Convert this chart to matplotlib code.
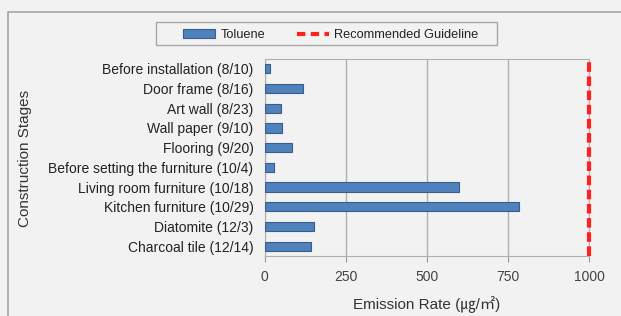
import matplotlib
matplotlib.use("Agg")
import matplotlib.pyplot as plt
from matplotlib.patches import Rectangle

plt.rcParams['font.family'] = ['Liberation Sans', 'Noto Sans CJK KR', 'DejaVu Sans']

# data
stages = ["Before installation (8/10)", "Door frame (8/16)", "Art wall (8/23)",
          "Wall paper (9/10)", "Flooring (9/20)", "Before setting the furniture (10/4)",
          "Living room furniture (10/18)", "Kitchen furniture (10/29)",
          "Diatomite (12/3)", "Charcoal tile (12/14)"]
toluene = [16, 119, 50, 53, 84, 29, 600, 782, 152, 143]
guideline = 1000
xticks = [0, 250, 500, 750, 1000]

bg = "#f2f2f2"
W, H = 621, 316
fig = plt.figure(figsize=(6.21, 3.16), dpi=100, facecolor=bg)
# outer chart border
fig.patches.append(Rectangle((8 / W, -0.1), 1.2, (H - 12) / H + 0.1,
                             transform=fig.transFigure, fill=False,
                             edgecolor="#a6a6a6", linewidth=1.2))
# legend box
fig.patches.append(Rectangle((156 / W, (H - 45) / H), (497 - 156) / W, 23 / H,
                             transform=fig.transFigure, fill=False,
                             edgecolor="#a6a6a6", linewidth=1))

ax = fig.add_axes([264.6 / W, (H - 256) / H, (589.3 - 264.6) / W, (256 - 59) / H])
ax.set_facecolor(bg)

ypos = list(range(len(stages)))
bars = ax.barh(ypos, toluene, height=0.47, color="#4f81bd", edgecolor="#385d8a",
               linewidth=0.8, label="Toluene", zorder=3)
gl = ax.axvline(guideline, color="#ff2020", linestyle=(0, (2.3, 1.1)), linewidth=3,
                label="Recommended Guideline", zorder=4, clip_on=False)

ax.set_xlim(0, 1000)
ax.set_ylim(len(stages) - 0.5, -0.5)
ax.set_xticks(xticks)
ax.set_yticks(ypos)
ax.set_yticklabels(stages, fontsize=10, color="#222222")
ax.tick_params(axis="x", labelsize=10, labelcolor="#444444", length=4,
               color="#999999", pad=6)
ax.tick_params(axis="y", length=0, pad=8)
ax.grid(axis="x", color="#b0b0b0", linewidth=1, zorder=0)
for s in ax.spines.values():
    s.set_color("#b0b0b0")

ax.set_xlabel("Emission Rate (㎍/㎡)", fontsize=11, color="#333333", labelpad=8)
fig.text(25 / W, (H - 158) / H, "Construction Stages", rotation=90,
         fontsize=11, color="#333333", ha="center", va="center")

leg = fig.legend(handles=[bars, gl], loc="center",
                 bbox_to_anchor=(331 / W, (H - 35) / H),
                 ncol=2, fontsize=9.2, frameon=False,
                 handlelength=2.5, handleheight=0.6, handletextpad=0.45,
                 columnspacing=2.4, borderpad=0)
for t in leg.get_texts():
    t.set_color("#222222")
for ln in leg.get_lines():
    ln.set_linestyle((0, (2, 1.3)))

fig.savefig("out.png", dpi=100, facecolor=bg)
